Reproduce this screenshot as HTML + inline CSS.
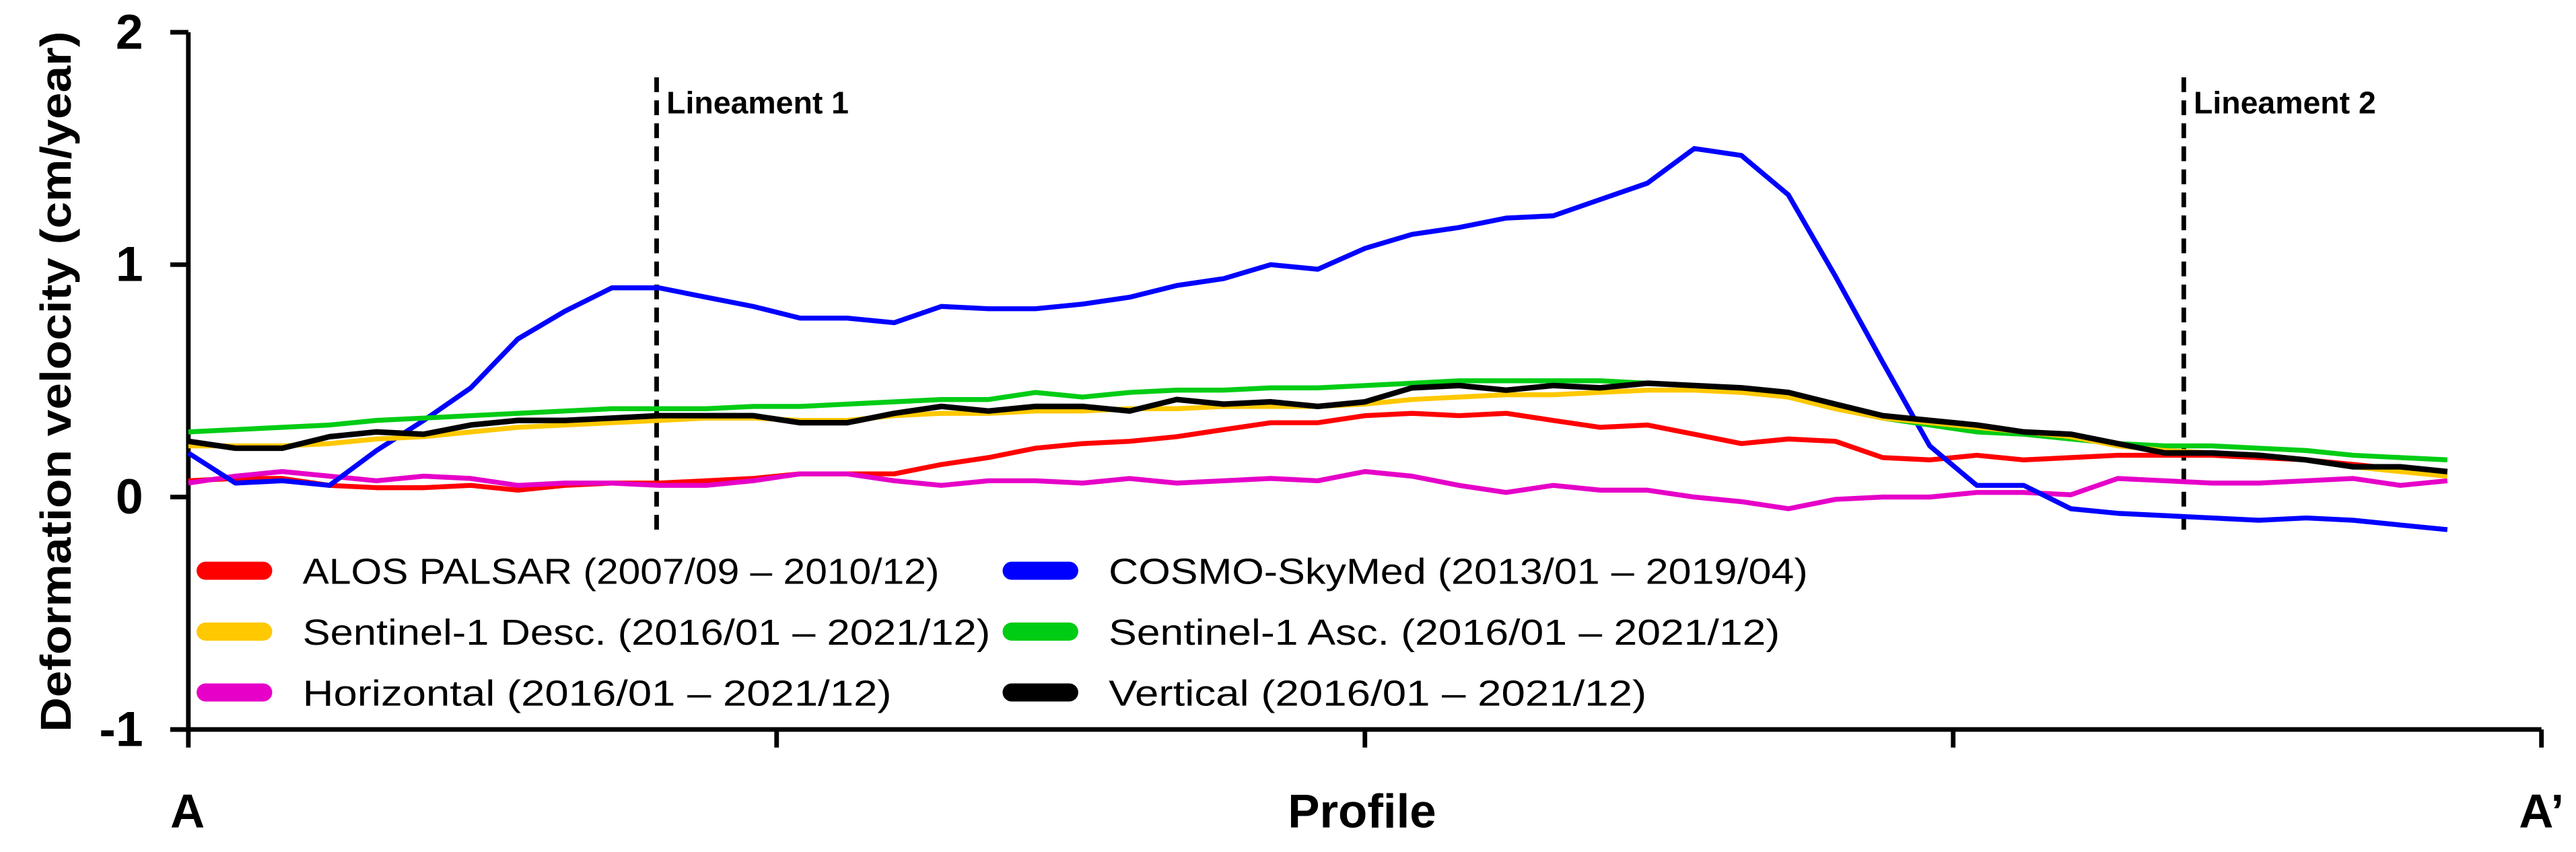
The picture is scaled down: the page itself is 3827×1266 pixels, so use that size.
<!DOCTYPE html>
<html><head><meta charset="utf-8">
<style>
html,body{margin:0;padding:0;background:#fff;}
svg{display:block;}
text{font-family:"Liberation Sans",sans-serif;}
</style></head>
<body>
<svg id="chart" width="3827" height="1266" viewBox="0 0 1566 518" preserveAspectRatio="none" xmlns="http://www.w3.org/2000/svg">
  <g id="axes"></g>
  <g id="series"></g>
  <g id="legend"></g>
</svg>
<script>
// ---- data ----
const profileX = [0,2,4,6,8,10,12,14,16,18,20,22,24,26,28,30,32,34,36,38,40,42,44,46,48,50,52,54,56,58,60,62,64,66,68,70,72,74,76,78,80,82,84,86,88,90,92,94,96];
const alosValues = [0.07,0.08,0.08,0.05,0.04,0.04,0.05,0.03,0.05,0.06,0.06,0.07,0.08,0.1,0.1,0.1,0.14,0.17,0.21,0.23,0.24,0.26,0.29,0.32,0.32,0.35,0.36,0.35,0.36,0.33,0.3,0.31,0.27,0.23,0.25,0.24,0.17,0.16,0.18,0.16,0.17,0.18,0.18,0.18,0.17,0.16,0.14,0.12,0.11];
const cosmoValues = [0.19,0.06,0.07,0.05,0.2,0.33,0.47,0.68,0.8,0.9,0.9,0.86,0.82,0.77,0.77,0.75,0.82,0.81,0.81,0.83,0.86,0.91,0.94,1.0,0.98,1.07,1.13,1.16,1.2,1.21,1.28,1.35,1.5,1.47,1.3,0.95,0.58,0.22,0.05,0.05,-0.05,-0.07,-0.08,-0.09,-0.1,-0.09,-0.1,-0.12,-0.14];
const descValues = [0.22,0.22,0.22,0.23,0.25,0.26,0.28,0.3,0.31,0.32,0.33,0.34,0.34,0.33,0.33,0.35,0.36,0.36,0.37,0.37,0.38,0.38,0.39,0.39,0.39,0.4,0.42,0.43,0.44,0.44,0.45,0.46,0.46,0.45,0.43,0.38,0.34,0.32,0.3,0.28,0.26,0.22,0.2,0.19,0.18,0.16,0.13,0.11,0.09];
const ascValues = [0.28,0.29,0.3,0.31,0.33,0.34,0.35,0.36,0.37,0.38,0.38,0.38,0.39,0.39,0.4,0.41,0.42,0.42,0.45,0.43,0.45,0.46,0.46,0.47,0.47,0.48,0.49,0.5,0.5,0.5,0.5,0.49,0.48,0.46,0.43,0.38,0.34,0.31,0.28,0.27,0.25,0.23,0.22,0.22,0.21,0.2,0.18,0.17,0.16];
const horizValues = [0.06,0.09,0.11,0.09,0.07,0.09,0.08,0.05,0.06,0.06,0.05,0.05,0.07,0.1,0.1,0.07,0.05,0.07,0.07,0.06,0.08,0.06,0.07,0.08,0.07,0.11,0.09,0.05,0.02,0.05,0.03,0.03,0.0,-0.02,-0.05,-0.01,0.0,0.0,0.02,0.02,0.01,0.08,0.07,0.06,0.06,0.07,0.08,0.05,0.07];
const vertValues = [0.24,0.21,0.21,0.26,0.28,0.27,0.31,0.33,0.33,0.34,0.35,0.35,0.35,0.32,0.32,0.36,0.39,0.37,0.39,0.39,0.37,0.42,0.4,0.41,0.39,0.41,0.47,0.48,0.46,0.48,0.47,0.49,0.48,0.47,0.45,0.4,0.35,0.33,0.31,0.28,0.27,0.23,0.19,0.19,0.18,0.16,0.13,0.13,0.11];
const yTicks = [2,1,0,-1];
const xTicks = [0,25,50,75,100];
const lineamentPositions = [19.9,84.8];
const lineamentLabels = ["Lineament 1","Lineament 2"];

const NS = "http://www.w3.org/2000/svg";
const X0 = 114.5, X1 = 1545, Ytop = 19.6, Ybot = 443.5;
function xScale(u){ return X0 + (u/100)*(X1-X0); }
function yScale(v){ return Ytop + (2 - v)/3*(Ybot-Ytop); }
function mk(tag, attrs, parent){
  const e = document.createElementNS(NS, tag);
  for (const k in attrs) e.setAttribute(k, attrs[k]);
  parent.appendChild(e);
  return e;
}
const axes = document.getElementById('axes');
const seriesG = document.getElementById('series');
const legend = document.getElementById('legend');

let yAxis = mk('line',{x1:X0,y1:Ytop,x2:X0,y2:Ybot,stroke:'#000','stroke-width':2.8},axes);


let xAxis = mk('line',{x1:X0-11,y1:Ybot,x2:X1,y2:Ybot,stroke:'#000','stroke-width':2.8},axes);



yTicks.forEach(t=>{
  const y = yScale(t);
  const tk = mk('line',{x1:X0-11,y1:y,x2:X0,y2:y,stroke:'#000','stroke-width':2.8},axes);
  
  
  const lb = mk('text',{x:87,y:y+10,'text-anchor':'end','font-size':30,'font-weight':'bold'},axes);
  lb.textContent = String(t);
  
  
});
xTicks.forEach(t=>{
  const x = xScale(t);
  const tk = mk('line',{x1:x,y1:Ybot,x2:x,y2:Ybot+11,stroke:'#000','stroke-width':2.8},axes);
  
  
});

const yTitle = mk('text',{x:0,y:0,transform:'translate(43,232) rotate(-90)','text-anchor':'middle','font-size':26,'font-weight':'bold',textLength:426,lengthAdjust:'spacingAndGlyphs'},axes);
yTitle.textContent = 'Deformation velocity (cm/year)';



[['A',114,'start-label'],['Profile',828,'x-axis-title'],['A\u2019',1545,'end-label']].forEach(d=>{
  const t = mk('text',{x:d[1],y:503,'text-anchor':'middle','font-size':29,'font-weight':'bold'},axes);
  t.textContent = d[0];
  
  
});

lineamentPositions.forEach((p,i)=>{
  const x = xScale(p);
  const ln = mk('line',{x1:x,y1:47,x2:x,y2:322,stroke:'#000','stroke-width':2.8,'stroke-dasharray':'9,5'},axes);
  
  
  const tx = mk('text',{x:x+6,y:69,'font-size':19,'font-weight':'bold'},axes);
  tx.textContent = lineamentLabels[i];
  
  
});

const seriesList = [
  {vals:alosValues,color:'#ff0000',w:3,name:'series-alos-palsar'},
  {vals:horizValues,color:'#e600c8',w:3,name:'series-horizontal'},
  {vals:cosmoValues,color:'#0000ff',w:3,name:'series-cosmo-skymed'},
  {vals:ascValues,color:'#00cc14',w:3,name:'series-sentinel1-asc'},
  {vals:descValues,color:'#ffc800',w:3,name:'series-sentinel1-desc'},
  {vals:vertValues,color:'#000000',w:3.4,name:'series-vertical'}
];
seriesList.forEach(s=>{
  const d = s.vals.map((v,i)=>(i?'L':'M')+xScale(profileX[i]).toFixed(1)+','+yScale(v).toFixed(1)).join(' ');
  const p = mk('path',{d:d,fill:'none',stroke:s.color,'stroke-width':s.w,'stroke-linejoin':'round'},seriesG);
  
  
});

const legendItems = [
  ['ALOS PALSAR (2007/09 \u2013 2010/12)','#ff0000',120,347,387],
  ['COSMO-SkyMed (2013/01 \u2013 2019/04)','#0000ff',610,347,425],
  ['Sentinel-1 Desc. (2016/01 \u2013 2021/12)','#ffc800',120,384,418],
  ['Sentinel-1 Asc. (2016/01 \u2013 2021/12)','#00cc14',610,384,408],
  ['Horizontal (2016/01 \u2013 2021/12)','#e600c8',120,421,358],
  ['Vertical (2016/01 \u2013 2021/12)','#000000',610,421,327]
];
legendItems.forEach(it=>{
  const sw = mk('line',{x1:it[2]+5,y1:it[3],x2:it[2]+40,y2:it[3],stroke:it[1],'stroke-width':11,'stroke-linecap':'round'},legend);
  
  
  const tx = mk('text',{x:it[2]+64,y:it[3]+8,'font-size':22,textLength:it[4],lengthAdjust:'spacingAndGlyphs'},legend);
  tx.textContent = it[0];
  
  
});
</script>
</body></html>
